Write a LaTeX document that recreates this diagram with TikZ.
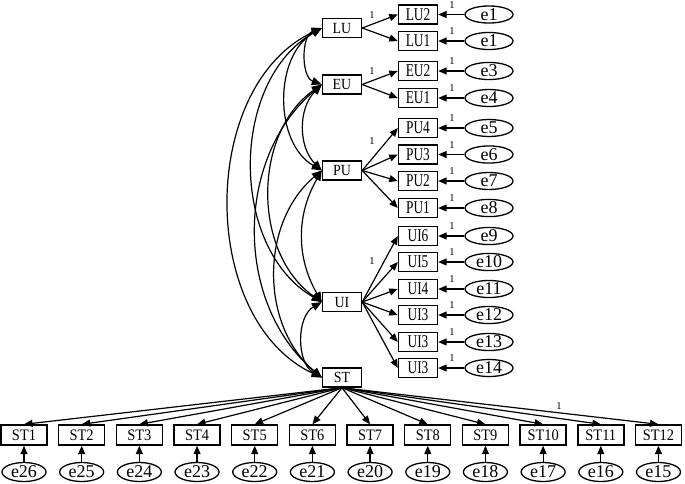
\documentclass[tikz,border=0pt]{standalone}
\usepackage{fontspec}
\setmainfont{Liberation Serif}
\newfontfamily\indfont[FakeStretch=0.74]{Liberation Serif}
\newfontfamily\latfont[FakeStretch=0.9]{Liberation Serif}
\usetikzlibrary{arrows.meta,shapes.geometric}
\begin{document}
\begin{tikzpicture}[x=1pt,y=-1pt,
  box/.style={draw,line width=1.4pt,minimum width=39pt,minimum height=19pt,inner sep=0pt},
  lat/.style={box,font=\latfont\fontsize{15.5}{15.5}\selectfont},
  ind/.style={box,font=\indfont\fontsize{18}{18}\selectfont},
  stbox/.style={box,minimum width=46pt,minimum height=20pt,font=\latfont\fontsize{16}{16}\selectfont},
  err/.style={draw,ellipse,line width=1.3pt,minimum width=48pt,minimum height=17pt,inner sep=0pt,font=\fontsize{18}{18}\selectfont},
  berr/.style={err,minimum width=44pt,minimum height=19pt},
  arr/.style={line width=1.2pt,-{Triangle[length=8.5pt,width=7pt]}},
  cov/.style={line width=1.2pt,{Triangle[length=10pt,width=8pt]}-{Triangle[length=10pt,width=8pt]}},
  one/.style={font=\fontsize{10.5}{10.5}\selectfont,inner sep=0pt}]
\useasboundingbox (0,0) rectangle (685,483);

% latent variables
\node[lat] (LU) at (342,28) {LU};
\node[lat] (EU) at (342,84.5) {EU};
\node[lat] (PU) at (342,170.5) {PU};
\node[lat] (UI) at (342,302) {UI};
\node[lat] (ST) at (342,377.5) {ST};

% indicators with errors
\foreach \n/\t/\y/\e/\et/\lat in {
  LUb/LU2/14.5/ea/e1/LU, LUa/LU1/41/eb/e1/LU,
  EUb/EU2/71/ec/e3/EU, EUa/EU1/98/ed/e4/EU,
  PUd/PU4/128/ee/e5/PU, PUc/PU3/154.5/ef/e6/PU, PUb/PU2/181/eg/e7/PU, PUa/PU1/208/eh/e8/PU,
  UIf/UI6/236/ei/e9/UI, UIe/UI5/262/ej/e10/UI, UId/UI4/289/ek/e11/UI,
  UIc/UI3/315/el/e12/UI, UIb/UI3/342/em/e13/UI, UIa/UI3/368/en/e14/UI}{
  \node[ind] (\n) at (418,\y) {\t};
  \node[err] (\e) at (489,\y) {\et};
  \draw[arr] (\e.west) -- (\n.east);
  \node[one] at (452,\y-9.5) {1};
  \draw[arr] (\lat.east) -- (\n.west);
}
\node[one] at (372,15) {1};
\node[one] at (372,71.5) {1};
\node[one] at (372,141.5) {1};
\node[one] at (372,261.5) {1};

% ST indicators
\foreach \i/\e in {1/26,2/25,3/24,4/23,5/22,6/21,7/20,8/19,9/18,10/17,11/16,12/15}{
  \node[stbox] (S\i) at ({24+57.68*(\i-1)},435) {ST\i};
  \node[berr] (E\e) at ({24+57.68*(\i-1)},472) {e\e};
  \draw[arr] (E\e) -- (S\i);
  \draw[arr] (ST.south) -- (S\i.north);
}
\node[one] at (559,406) {1};

% covariances
\draw[cov] (LU.west) to[bend right=70] (EU.west);
\draw[cov] (LU.west) to[bend right=60] (PU.west);
\draw[cov] (LU.west) to[bend right=60] (UI.west);
\draw[cov] (LU.west) to[bend right=65] (ST.west);
\draw[cov] (EU.west) to[bend right=45] (PU.west);
\draw[cov] (EU.west) to[bend right=55] (UI.west);
\draw[cov] (EU.west) to[bend right=50] (ST.west);
\draw[cov] (PU.west) to[bend right=30] (UI.west);
\draw[cov] (PU.west) to[bend right=50] (ST.west);
\draw[cov] (UI.west) to[bend right=60] (ST.west);
\end{tikzpicture}
\end{document}
